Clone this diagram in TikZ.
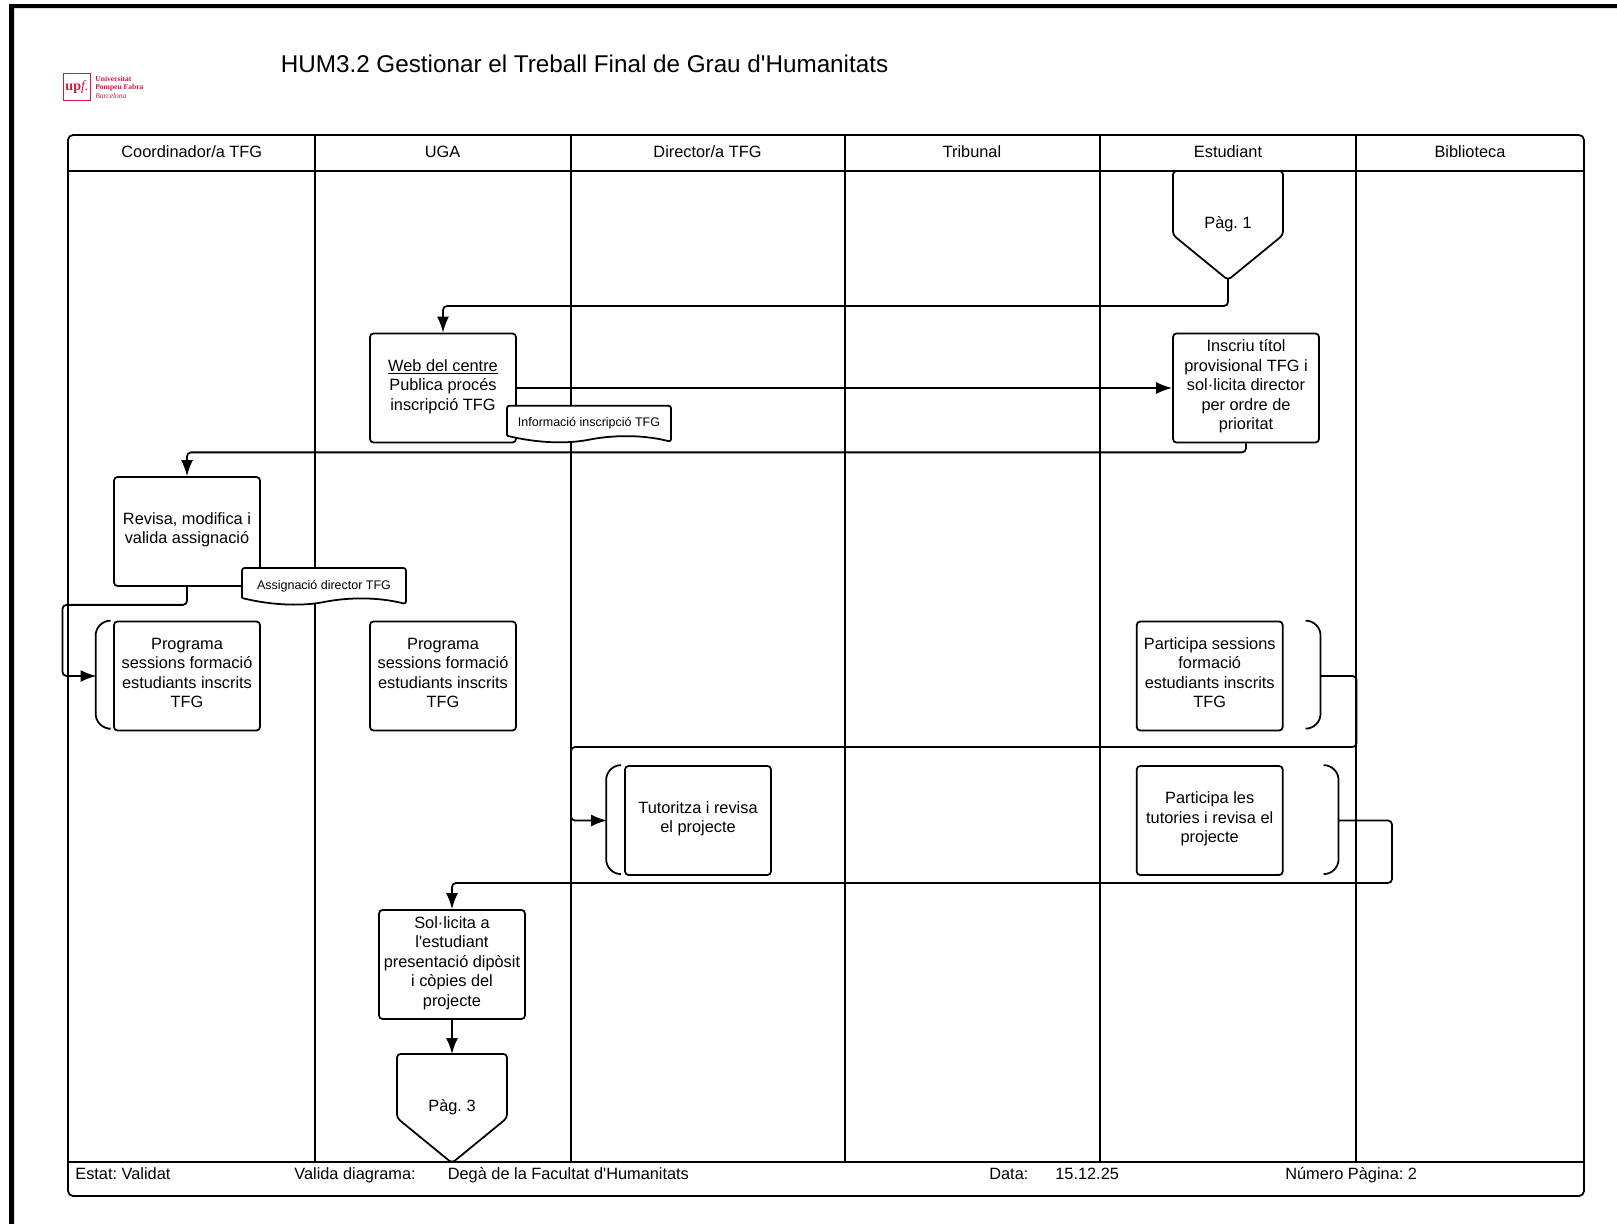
\documentclass[tikz,border=0pt]{standalone}
\usepackage{fontspec}
\setmainfont{Liberation Sans}
\newfontfamily\plainsans{Liberation Sans}
\newfontfamily\logofont{Liberation Serif}
\usetikzlibrary{arrows.meta,calc}
\definecolor{upfred}{HTML}{D9173F}
\tikzset{
  body/.style={font=\plainsans\fontsize{9.3}{11.1}\selectfont},
  lane/.style={line width=1.15pt},
  outline/.style={line width=1pt},
  process/.style={draw, line width=1pt, fill=white, rounded corners=0.07cm, align=center, inner sep=0pt, minimum width=2.92cm, minimum height=2.18cm, body, execute at begin node={\rule{0pt}{7.5pt}}, execute at end node={\rule[-3.7pt]{0pt}{3.7pt}}},
  offpage/.style={draw, line width=1pt, fill=white, rounded corners=0.07cm},
  flow/.style={line width=1pt, rounded corners=0.08cm, -{Latex[length=0.32cm,width=0.24cm]}},
  bracket/.style={line width=1pt, rounded corners=0.3cm},
  notepath/.style={draw, line width=1pt, fill=white, rounded corners=0.05cm},
  notetext/.style={font=\plainsans\fontsize{7.1}{8.5}\selectfont, inner sep=0pt, anchor=base},
  label/.style={body, anchor=base, inner sep=0pt},
  footer/.style={body, anchor=base west, inner sep=0pt}
}
\begin{document}
\frenchspacing
\begin{tikzpicture}[x=0.02cm, y=-0.02cm]
  \useasboundingbox (0,0) rectangle (1617,1224);
  % frame
  \fill (9,1224) -- (9,4) -- (1617,4) -- (1617,8) -- (14,8) -- (14,1224) -- cycle;
  % logo and title
  \node[draw=upfred, line width=0.7pt, minimum size=0.55cm, inner sep=0pt, text=upfred, font=\logofont\fontsize{8}{8}\selectfont] (logo) at (77,87) {\textbf{up}\textit{f.}};
  \node[anchor=west, inner sep=0pt, align=left, text=upfred, font=\logofont\fontsize{4.3}{4.8}\selectfont\bfseries] (logotext) at (95,87) {Universitat\\Pompeu Fabra\\\textmd{\textit{Barcelona}}};
  \node[anchor=base west, inner sep=0pt, font=\plainsans\fontsize{13.8}{17}\selectfont] (title) at (280.5,72.5) {HUM3.2 Gestionar el Treball Final de Grau d'Humanitats};
  % lanes
  \draw[outline, rounded corners=0.1cm] (68,171) -- (68,135) -- (1584,135) -- (1584,171);
  \draw[outline] (68,171) -- (1584,171);
  \draw[outline, rounded corners=0.1cm] (68,171) -- (68,1196) -- (1584,1196) -- (1584,171);
  \draw[outline] (68,1162) -- (1584,1162);
  \foreach \x in {315, 571, 844.6, 1100, 1356}
  \draw[lane] (\x,135) -- (\x,1162);
  \foreach \x/\lanename in {191.8/Coordinador\slash a TFG, 442.5/UGA, 707.5/Director\slash a TFG, 972/Tribunal, 1228/Estudiant, 1470/Biblioteca}
  \node[label] at (\x,157.5) {\lanename};
  % free ends at the brackets
  \coordinate (brkprog) at (96.5,676);
  \coordinate (brkses) at (1320,676);
  \coordinate (brktut) at (607,820.5);
  \coordinate (brkpart) at (1338,820.5);
  % page connectors
  \foreach \x/\y/\pagname/\pagtext in {1228/171/pag1/Pàg. 1, 452/1054/pag3/Pàg. 3}
    {
      \draw[offpage] (\x-55,\y) -- (\x+55,\y) -- (\x+55,\y+64) -- (\x,\y+109) -- (\x-55,\y+64) -- cycle;
      \coordinate (top\pagname) at (\x,\y);
      \coordinate (tip\pagname) at (\x,\y+108);
      \node[body, inner sep=0pt] (\pagname) at (\x,\y+53.5) {\pagtext};
    }
  % boxes
  \node[process] (web) at (443,388) {\underline{Web del centre}\\Publica procés\\inscripció TFG};
  \node[process] (inscriu) at (1246,388) {Inscriu títol\\provisional TFG i\\sol·licita director\\per ordre de\\prioritat};
  \node[process] (revisa) at (187,531.5) {Revisa, modifica i\\valida assignació};
  \node[process] (progcoord) at (187,676) {Programa\\sessions formació\\estudiants inscrits\\TFG};
  \node[process] (proguga) at (443,676) {Programa\\sessions formació\\estudiants inscrits\\TFG};
  \node[process] (partses) at (1209.7,676) {Participa sessions\\formació\\estudiants inscrits\\TFG};
  \node[process] (tutor) at (698,820.5) {Tutoritza i revisa\\el projecte};
  \node[process] (parttut) at (1209.7,820.5) {Participa les\\tutories i revisa el\\projecte};
  \node[process] (sol) at (452,964.5) {Sol·licita a\\l'estudiant\\presentació dipòsit\\i còpies del\\projecte};
  % brackets
  \draw[bracket] (progcoord.north west) ++(-5,0) -- ++(-12.5,0) -- ++(0,108) -- ++(12.5,0);
  \draw[bracket] (tutor.north west) ++(-5,0) -- ++(-13,0) -- ++(0,109) -- ++(13,0);
  \draw[bracket] (partses.north east) ++(22.5,0) -- ++(14.5,0) -- ++(0,108) -- ++(-14.5,0);
  \draw[bracket] (parttut.north east) ++(41,0) -- ++(14,0) -- ++(0,109) -- ++(-14,0);
  % flow
  \draw[flow] (tippag1) -- ++(0,27) -| (web.north);
  \draw[flow] (web.east) -- (inscriu.west);
  \draw[flow] (inscriu.south) -- ++(0,9) -| (revisa.north);
  \draw[flow] (revisa.south) -- ++(0,18) -- ++(-124.5,0) |- (brkprog);
  \draw[flow] (brkses) -- ++(36.5,0) -- ++(0,71) -- ++(-785.5,0) |- (brktut);
  \draw[flow] (brkpart) -- ++(54,0) -- ++(0,62.5) -| (sol.north);
  \draw[flow] (sol.south) -- (toppag3);
  % documents
  \foreach \x/\y/\docname/\doctext in {589/423.7/docinfo/Informació inscripció TFG, 324/586/docassig/Assignació director TFG}
    {
      \draw[notepath] (\x-82,\y+12) -- (\x-82,\y-18) -- (\x+82,\y-18) -- (\x+82,\y+18) [sharp corners] .. controls (\x+50,\y+10) and (\x+20,\y+12) .. (\x,\y+16) .. controls (\x-20,\y+20) and (\x-50,\y+20) .. (\x-82,\y+12);
      \node[notetext] (\docname) at (\x,\y+3) {\doctext};
    }
  % footer
  \node[footer] (estat) at (75,1179) {Estat: Validat};
  \node[footer] (valida) at (294,1179) {Valida diagrama:};
  \node[footer] (dega) at (447.5,1179) {Degà de la Facultat d'Humanitats};
  \node[footer] (data) at (989,1179) {Data:};
  \node[footer] (datavalue) at (1055,1179) {15.12.25};
  \node[footer] (pagina) at (1285,1179) {Número Pàgina: 2};
\end{tikzpicture}
\end{document}
